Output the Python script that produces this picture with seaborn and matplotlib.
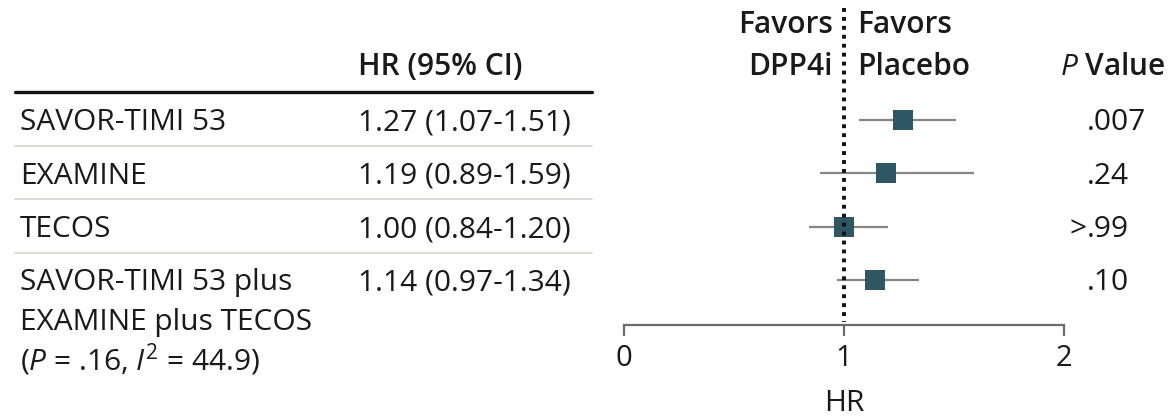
import matplotlib
matplotlib.use("Agg")
import matplotlib.pyplot as plt
from matplotlib import transforms
import numpy as np
import pandas as pd
import seaborn as sns

# ---- data ----
studies = ["SAVOR-TIMI 53", "EXAMINE", "TECOS",
           "SAVOR-TIMI 53 plus\nEXAMINE plus TECOS\n($\\mathit{P}$ = .16, $\\mathit{I}^{2}$ = 44.9)"]
hr = [1.27, 1.19, 1.00, 1.14]
ci_low = [1.07, 0.89, 0.84, 0.97]
ci_high = [1.51, 1.59, 1.20, 1.34]
p_values = [".007", ".24", ">.99", ".10"]
x_ticks = [0, 1, 2]

df = pd.DataFrame({"study": studies, "hr": hr, "lo": ci_low, "hi": ci_high,
                   "row": np.arange(len(studies))})

# ---- style ----
sns.set_theme(style="white")
plt.rcParams["font.family"] = ["Open Sans", "Liberation Sans", "DejaVu Sans"]
plt.rcParams["mathtext.fontset"] = "custom"
plt.rcParams["mathtext.rm"] = "Open Sans"
plt.rcParams["mathtext.it"] = "Open Sans:italic"

TXT = "#1a1a1a"
GRID = "#6b6b6b"
MARK = "#2f5763"
FS = 21.5

W, H = 1171, 419
fig = plt.figure(figsize=(W / 100, H / 100), dpi=100)

# forest panel: x from 0 to 2, rows spaced evenly
ROW0, ROWSTEP = 120.0, 53.3
def py(p):
    """vertical pixel position (from top) -> row coordinate"""
    return (p - ROW0) / ROWSTEP

ax_left, ax_right, ax_bottom_px = 624, 1064, 325
ax = fig.add_axes([ax_left / W, (H - ax_bottom_px) / H, (ax_right - ax_left) / W, ax_bottom_px / H])
ax.set_xlim(0, 2)
ax.set_ylim(py(ax_bottom_px), py(0))

# confidence intervals and point estimates
ax.hlines(df["row"], df["lo"], df["hi"], color="#858585", lw=1.6, zorder=2)
sns.scatterplot(data=df, x="hr", y="row", marker="s", s=200, color=MARK,
                edgecolor=MARK, linewidth=0, ax=ax, zorder=3, legend=False)

# line of no effect
ax.vlines(1, py(8), py(322), color="#111111", lw=2.8, linestyles=(0, (1.0, 1.3)), zorder=4)

for side in ["left", "top", "right"]:
    ax.spines[side].set_visible(False)
ax.spines["bottom"].set_color(GRID)
ax.spines["bottom"].set_linewidth(1.6)
ax.set_xticks(x_ticks)
ax.set_xticklabels([str(t) for t in x_ticks])
ax.set_yticks([])
ax.tick_params(axis="x", direction="out", length=8, width=1.6, color=GRID,
               labelsize=21, labelcolor=TXT, pad=6, bottom=True)
ax.set_xlabel("")
ax.set_ylabel("")

# x in pixels -> figure fraction; y stays in row units
tr = transforms.blended_transform_factory(
    transforms.Affine2D().scale(1.0 / W, 1.0 / H) + fig.transFigure, ax.transData)

def put(x, y, s, **kw):
    kw.setdefault("fontsize", FS)
    kw.setdefault("color", TXT)
    kw.setdefault("va", "baseline")
    ax.text(x, y, s, transform=tr, clip_on=False, **kw)

# axis title, centred under HR = 1
ax.text(0.5, py(403), "HR", transform=transforms.blended_transform_factory(ax.transAxes, ax.transData),
        ha="center", va="center", fontsize=FS, color=TXT, clip_on=False)

# headers
put(358, py(75), "HR (95% CI)", fontweight="semibold")
put(1166, py(75), "$\\mathit{P}$ Value", ha="right", fontweight="semibold")
put(833, py(33), "Favors", ha="right", fontweight="semibold")
put(833, py(75), "DPP4i", ha="right", fontweight="semibold")
put(857, py(33), "Favors", ha="left", fontweight="semibold")
put(857, py(75), "Placebo", ha="left", fontweight="semibold")

# table rules
ax.plot([15, 592], [py(92)] * 2, transform=tr, clip_on=False, color="#111111", lw=2.4)
for p in [146, 199, 253]:
    ax.plot([15, 592], [py(p)] * 2, transform=tr, clip_on=False, color="#d9d7d0", lw=1.3)

# rows
line_gap = 40.0 / ROWSTEP
for i, r in df.iterrows():
    base = r["row"] + 10.5 / ROWSTEP
    for k, part in enumerate(r["study"].split("\n")):
        put(20, base + k * line_gap, part)
    put(358, base, f"{r['hr']:.2f} ({r['lo']:.2f}-{r['hi']:.2f})")
    pv = p_values[i]
    if pv.startswith(">"):
        put(1087, base, ">", ha="right")
        pv = pv[1:]
    put(1087, base, pv, ha="left")

fig.savefig("out.png", dpi=100, facecolor="white")
